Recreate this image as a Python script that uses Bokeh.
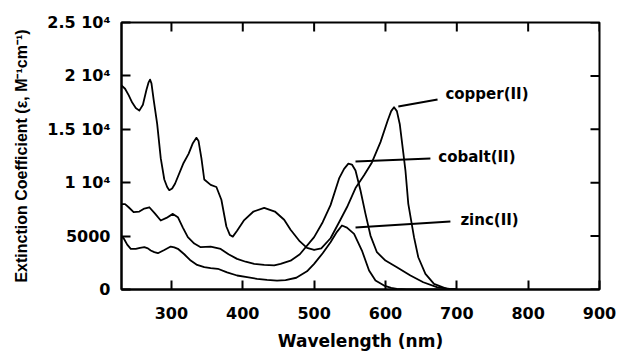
import math
from bokeh.plotting import figure
from bokeh.models import Range1d, FixedTicker, ColumnDataSource
from bokeh.embed import file_html
from bokeh.resources import INLINE
from bokeh.core.properties import value

# ---- data ----
copper_wl = [230, 235, 240, 245, 250, 255, 260, 265, 268, 270, 272, 275, 280, 285, 290, 294, 297, 301,
             305, 317, 324, 330, 335, 338, 342, 346, 355, 363, 370, 377, 382, 386, 392, 402, 415, 430,
             445, 458, 467, 480, 490, 500, 510, 523, 535, 546, 558, 570, 581, 593, 603, 608, 612, 616,
             620, 625, 628, 632, 640, 646, 656, 668, 686, 700]
copper = [19100, 18800, 18200, 17500, 17000, 16750, 17300, 18700, 19400, 19650, 19300, 17800, 15500,
          12300, 10300, 9600, 9300, 9450, 9900, 11850, 12700, 13700, 14200, 13900, 12300, 10300, 9800,
          9600, 8400, 5900, 5100, 4950, 5500, 6500, 7300, 7650, 7300, 6530, 5600, 4500, 3900, 3700,
          3850, 4800, 6300, 7700, 9500, 10700, 11900, 13800, 15800, 16700, 17060, 16700, 15500, 12800,
          11140, 8020, 4900, 3020, 1470, 530, 60, 0]

cobalt_wl = [230, 235, 240, 247, 255, 262, 269, 277, 285, 293, 302, 309, 316, 323, 332, 341, 355, 369,
             380, 392, 404, 416, 430, 444, 453, 467, 480, 500, 512, 523, 535, 542, 548, 553, 558, 565,
             572, 579, 588, 600, 616, 635, 653, 672, 690, 700]
cobalt = [8000, 8000, 7700, 7240, 7300, 7580, 7700, 7100, 6460, 6700, 7080, 6770, 5800, 4900, 4300,
          3960, 4020, 3800, 3300, 2870, 2600, 2400, 2300, 2250, 2400, 2700, 3300, 4900, 6300, 7900,
          10400, 11300, 11780, 11700, 11140, 9270, 7080, 5050, 3490, 2710, 2090, 1310, 680, 220, 50, 0]

zinc_wl = [230, 233, 238, 243, 250, 256, 262, 267, 271, 276, 281, 290, 299, 304, 309, 318, 327, 336,
           346, 355, 365, 378, 392, 406, 420, 434, 448, 460, 475, 490, 500, 512, 523, 532, 539, 546,
           556, 567, 577, 586, 598, 608, 616, 630, 700]
zinc = [4950, 4800, 4200, 3810, 3800, 3900, 3960, 3850, 3650, 3500, 3400, 3700, 4020, 3950, 3810, 3300,
        2710, 2300, 2090, 2000, 1940, 1600, 1310, 1150, 1000, 900, 840, 880, 1100, 1700, 2400, 3400,
        4430, 5400, 5990, 5800, 5210, 3650, 1780, 840, 370, 150, 60, 0, 0]

x_min, x_max = 230, 900
y_min, y_max = 0, 25000
x_ticks = [300, 400, 500, 600, 700, 800, 900]
y_ticks = [0, 5000, 10000, 15000, 20000, 25000]
y_tick_labels = ["0", "5000", "1 10\u2074", "1.5 10\u2074", "2 10\u2074", "2.5 10\u2074"]

label_names = ["copper(II)", "cobalt(II)", "zinc(II)"]

# ---- annotation placement (data coords) ----
lead_x0 = [618, 558, 558]
lead_y0 = [17130, 11980, 5800]
lead_x1 = [673, 663, 691]
lead_y1 = [17780, 12260, 6360]
text_x = [684, 674, 705]
text_y = [18350, 12360, 6550]

FONT = "DejaVu Sans"

p = figure(width=619, height=354, x_range=Range1d(x_min, x_max), y_range=Range1d(y_min, y_max),
           output_backend="svg", toolbar_location=None,
           min_border_left=121, min_border_right=20, min_border_top=22, min_border_bottom=65)
p.grid.visible = False
p.background_fill_color = "white"
p.border_fill_color = "white"
p.outline_line_color = "black"
p.outline_line_width = 2

for ax in (p.xaxis[0], p.yaxis[0]):
    ax.major_tick_in = 9
    ax.major_tick_out = 0
    ax.minor_tick_in = 0
    ax.minor_tick_out = 0
    ax.axis_line_width = 2
    ax.major_tick_line_width = 2
    ax.major_label_text_font = FONT
    ax.major_label_text_font_style = "bold"
    ax.major_label_text_font_size = "16px"
    ax.major_label_text_color = "black"
    ax.axis_label_text_color = "black"

p.xaxis.ticker = FixedTicker(ticks=x_ticks)
p.yaxis.ticker = FixedTicker(ticks=y_ticks)
p.yaxis.major_label_overrides = {t: s for t, s in zip(y_ticks, y_tick_labels)}
p.xaxis.major_label_standoff = 17
p.yaxis.major_label_standoff = 11

p.xaxis.axis_label = "Wavelength (nm)"
p.xaxis.axis_label_text_font = FONT
p.xaxis.axis_label_text_font_style = "bold"
p.xaxis.axis_label_text_font_size = "17px"
p.xaxis.axis_label_standoff = 9

p.yaxis.axis_label = "Extinction Coefficient (\u03b5, M\u207b\u00b9cm\u207b\u00b9)"
p.yaxis.axis_label_text_font = "Liberation Sans"
p.yaxis.axis_label_text_font_style = "bold"
p.yaxis.axis_label_text_font_size = "16px"
p.yaxis.axis_label_standoff = 14

# inward ticks on the right and top edges of the box (no labels)
p.ray(x=[x_max] * len(y_ticks), y=y_ticks, length=9, length_units="screen", angle=math.pi,
      line_color="black", line_width=2)
p.ray(x=x_ticks, y=[y_max] * len(x_ticks), length=9, length_units="screen", angle=-math.pi / 2,
      line_color="black", line_width=2)

for xs, ys in ((copper_wl, copper), (cobalt_wl, cobalt), (zinc_wl, zinc)):
    p.line(xs, ys, line_color="black", line_width=1.8, line_join="round")

p.segment(x0=lead_x0, y0=lead_y0, x1=lead_x1, y1=lead_y1, line_color="black", line_width=2)

src = ColumnDataSource(dict(x=text_x, y=text_y, t=label_names))
p.text(x="x", y="y", text="t", source=src, text_font=value(FONT), text_font_style="bold",
       text_font_size="15px", text_baseline="middle", text_align="left", text_color="black")

open("out.html", "w").write(file_html(p, INLINE))
